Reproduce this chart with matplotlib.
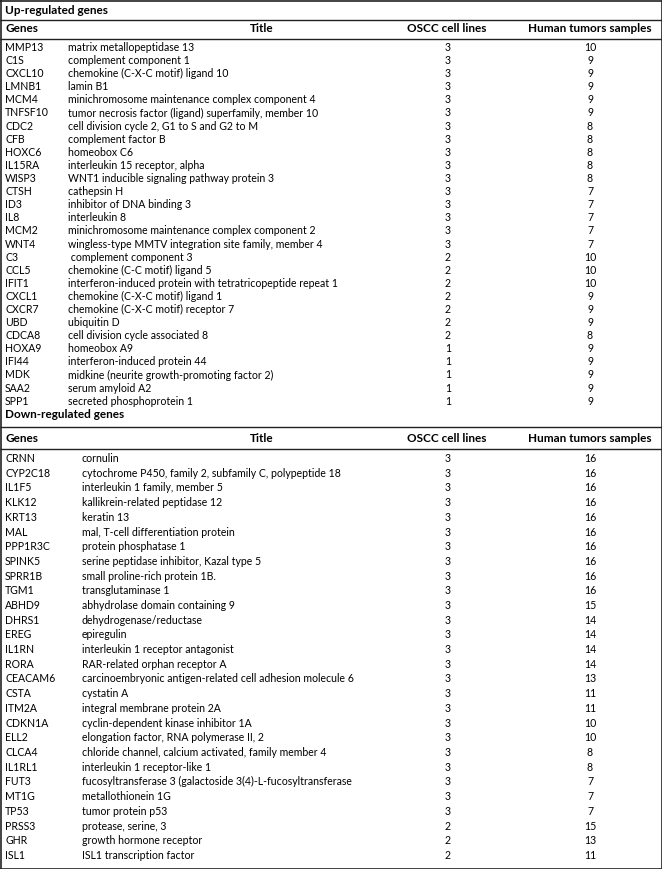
import matplotlib.pyplot as plt

# Up-regulated genes
up_genes = ['MMP13', 'C1S', 'CXCL10', 'LMNB1', 'MCM4', 'TNFSF10', 'CDC2', 'CFB',
            'HOXC6', 'IL15RA', 'WISP3', 'CTSH', 'ID3', 'IL8', 'MCM2', 'WNT4', 'C3',
            'CCL5', 'IFIT1', 'CXCL1', 'CXCR7', 'UBD', 'CDCA8', 'HOXA9', 'IFI44',
            'MDK', 'SAA2', 'SPP1']
up_titles = ['matrix metallopeptidase 13',
             'complement component 1',
             'chemokine (C-X-C motif) ligand 10',
             'lamin B1',
             'minichromosome maintenance complex component 4',
             'tumor necrosis factor (ligand) superfamily, member 10',
             'cell division cycle 2, G1 to S and G2 to M',
             'complement factor B',
             'homeobox C6',
             'interleukin 15 receptor, alpha',
             'WNT1 inducible signaling pathway protein 3',
             'cathepsin H',
             'inhibitor of DNA binding 3',
             'interleukin 8',
             'minichromosome maintenance complex component 2',
             'wingless-type MMTV integration site family, member 4',
             ' complement component 3',
             'chemokine (C-C motif) ligand 5',
             'interferon-induced protein with tetratricopeptide repeat 1',
             'chemokine (C-X-C motif) ligand 1',
             'chemokine (C-X-C motif) receptor 7',
             'ubiquitin D',
             'cell division cycle associated 8',
             'homeobox A9',
             'interferon-induced protein 44',
             'midkine (neurite growth-promoting factor 2)',
             'serum amyloid A2',
             'secreted phosphoprotein 1']
up_cells = [3, 3, 3, 3, 3, 3, 3, 3, 3, 3, 3, 3, 3, 3, 3, 3, 2, 2, 2, 2, 2, 2, 2, 1, 1, 1, 1, 1]
up_tumors = [10, 9, 9, 9, 9, 9, 8, 8, 8, 8, 8, 7, 7, 7, 7, 7, 10, 10, 10, 9, 9, 9, 8, 9, 9, 9, 9, 9]

# Down-regulated genes
down_genes = ['CRNN', 'CYP2C18', 'IL1F5', 'KLK12', 'KRT13', 'MAL', 'PPP1R3C', 'SPINK5',
              'SPRR1B', 'TGM1', 'ABHD9', 'DHRS1', 'EREG', 'IL1RN', 'RORA', 'CEACAM6',
              'CSTA', 'ITM2A', 'CDKN1A', 'ELL2', 'CLCA4', 'IL1RL1', 'FUT3', 'MT1G',
              'TP53', 'PRSS3', 'GHR', 'ISL1']
down_titles = ['cornulin',
               'cytochrome P450, family 2, subfamily C, polypeptide 18',
               'interleukin 1 family, member 5',
               'kallikrein-related peptidase 12',
               'keratin 13',
               'mal, T-cell differentiation protein',
               'protein phosphatase 1',
               'serine peptidase inhibitor, Kazal type 5',
               'small proline-rich protein 1B.',
               'transglutaminase 1',
               'abhydrolase domain containing 9',
               'dehydrogenase/reductase',
               'epiregulin',
               'interleukin 1 receptor antagonist',
               'RAR-related orphan receptor A',
               'carcinoembryonic antigen-related cell adhesion molecule 6',
               'cystatin A',
               'integral membrane protein 2A',
               'cyclin-dependent kinase inhibitor 1A',
               'elongation factor, RNA polymerase II, 2',
               'chloride channel, calcium activated, family member 4',
               'interleukin 1 receptor-like 1',
               'fucosyltransferase 3 (galactoside 3(4)-L-fucosyltransferase',
               'metallothionein 1G',
               'tumor protein p53',
               'protease, serine, 3',
               'growth hormone receptor',
               'ISL1 transcription factor']
down_cells = [3] * 25 + [2, 2, 2]
down_tumors = [16, 16, 16, 16, 16, 16, 16, 16, 16, 16, 15, 14, 14, 14, 14, 13, 11, 11,
               10, 10, 8, 8, 7, 7, 7, 15, 13, 11]

headers = ['Genes', 'Title', 'OSCC cell lines', 'Human tumors samples']

plt.rcParams['font.family'] = ['Lato', 'DejaVu Sans']

W, H = 662, 869
fig = plt.figure(figsize=(W / 100, H / 100), dpi=100)
ax = fig.add_axes([0, 0, 1, 1])
ax.set_xlim(0, W)
ax.set_ylim(H, 0)
ax.axis('off')

fs = 7.6
hfs = 8.5
lc = '#222222'


def hline(y, lw=1.0):
    ax.plot([0, W], [y, y], color=lc, lw=lw, solid_capstyle='butt')


def section(label, label_y, line1, head_y, line2, first_y, row_h,
            genes, titles, cells, tumors, title_x):
    ax.text(5, label_y, label, fontsize=hfs, fontweight='bold', va='center')
    hline(line1)
    ax.text(5, head_y, headers[0], fontsize=hfs, fontweight='bold', va='center')
    ax.text(262, head_y, headers[1], fontsize=hfs, fontweight='bold', va='center', ha='center')
    ax.text(447, head_y, headers[2], fontsize=hfs, fontweight='bold', va='center', ha='center')
    ax.text(590, head_y, headers[3], fontsize=hfs, fontweight='bold', va='center', ha='center')
    hline(line2)
    for i, (g, t, c, n) in enumerate(zip(genes, titles, cells, tumors)):
        y = first_y + row_h * i
        ax.text(5, y, g, fontsize=fs, va='center')
        ax.text(title_x, y, t, fontsize=fs, va='center')
        ax.text(448, y, str(c), fontsize=fs, va='center', ha='center')
        ax.text(590, y, str(n), fontsize=fs, va='center', ha='center')


section('Up-regulated genes', 10, 19.5, 29, 38.5, 47.5, 13.1,
        up_genes, up_titles, up_cells, up_tumors, 68)
section('Down-regulated genes', 415, 427, 438, 449, 458.5, 14.7,
        down_genes, down_titles, down_cells, down_tumors, 82)

# outer border
ax.plot([0.5, 0.5], [0, H], color=lc, lw=1.2)
ax.plot([W - 0.5, W - 0.5], [0, H], color=lc, lw=1.2)
hline(0.5, 1.2)
hline(H - 0.5, 1.2)

fig.savefig('out.png', dpi=100)
